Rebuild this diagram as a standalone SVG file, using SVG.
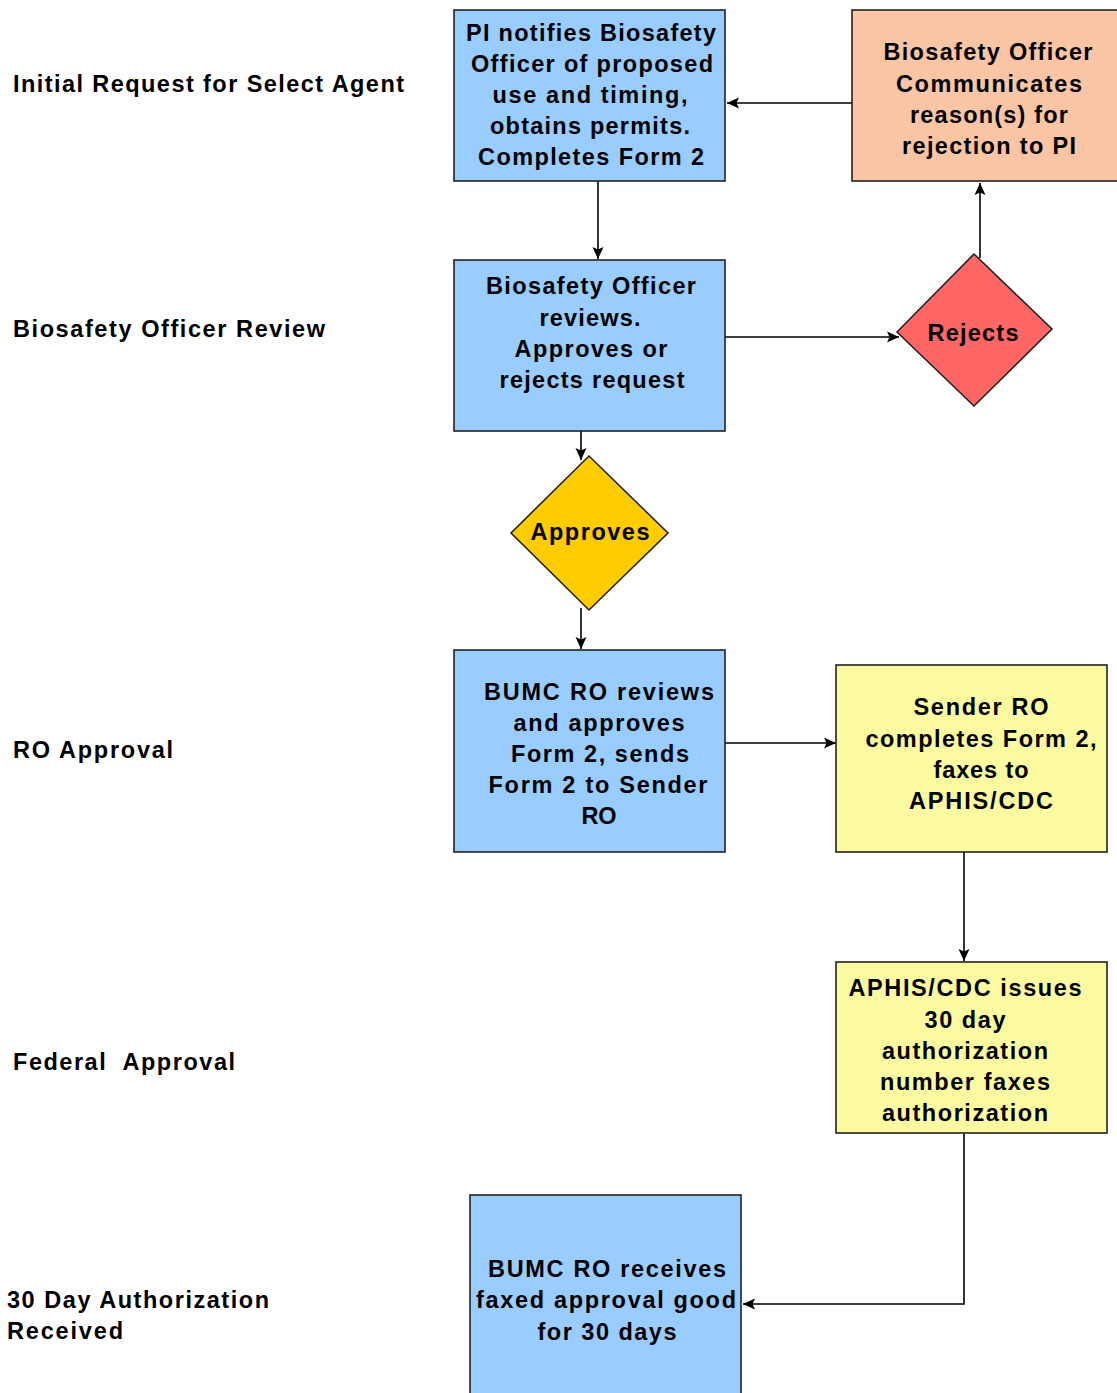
<svg xmlns="http://www.w3.org/2000/svg" width="1117" height="1393" viewBox="0 0 1117 1393">
<defs>
<marker id="arr" markerWidth="12" markerHeight="12" refX="12" refY="6" orient="auto" markerUnits="userSpaceOnUse">
<path d="M0,0.5 L12,6 L0,11.5 L2.5,6 Z" fill="#000"/>
</marker>
<style>
.t{font-family:"Liberation Sans",Arial,sans-serif;font-weight:bold;font-size:23.5px;fill:#000}
.c{text-anchor:middle}
.box{stroke:#222;stroke-width:1.6}
.blue{fill:#99CCFF}
.yel{fill:#FBFAA1}
.org{fill:#F9C5A5}
.ln{fill:none;stroke:#000;stroke-width:1.6}
</style>
</defs>
<rect width="1117" height="1393" fill="#fff"/>
<g id="labels">
<text class="t" x="13" y="92" textLength="391">Initial Request for Select Agent</text>
<text class="t" x="13" y="337" textLength="312">Biosafety Officer Review</text>
<text class="t" x="13" y="758" textLength="160">RO Approval</text>
<text class="t" x="13" y="1070" textLength="222" xml:space="preserve">Federal  Approval</text>
<text class="t" x="7" y="1308" textLength="262">30 Day Authorization</text>
<text class="t" x="7" y="1339" textLength="116">Received</text>
</g>
<g id="connectors">
<line class="ln" x1="852" y1="103" x2="727" y2="103" marker-end="url(#arr)"/>
<line class="ln" x1="598" y1="181" x2="598" y2="259" marker-end="url(#arr)"/>
<line class="ln" x1="725" y1="337" x2="899" y2="337" marker-end="url(#arr)"/>
<line class="ln" x1="980" y1="258" x2="980" y2="183" marker-end="url(#arr)"/>
<line class="ln" x1="581" y1="417" x2="581" y2="460" marker-end="url(#arr)"/>
<line class="ln" x1="581" y1="608" x2="581" y2="649" marker-end="url(#arr)"/>
<line class="ln" x1="725" y1="743" x2="836" y2="743" marker-end="url(#arr)"/>
<line class="ln" x1="964" y1="852" x2="964" y2="961" marker-end="url(#arr)"/>
<polyline class="ln" points="964,1133 964,1304 743,1304" marker-end="url(#arr)"/>
</g>
<g id="n1">
<rect class="box blue" x="454" y="10" width="271" height="171"/>
<text class="t c" x="591" y="41" textLength="250">PI notifies Biosafety</text>
<text class="t c" x="592" y="72" textLength="242">Officer of proposed</text>
<text class="t c" x="590" y="103" textLength="195">use and timing,</text>
<text class="t c" x="590" y="134" textLength="200">obtains permits.</text>
<text class="t c" x="591" y="165" textLength="226">Completes Form 2</text>
</g>
<g id="n2">
<rect class="box org" x="852" y="10" width="268" height="171"/>
<text class="t c" x="988" y="60" textLength="209">Biosafety Officer</text>
<text class="t c" x="989" y="92" textLength="186">Communicates</text>
<text class="t c" x="989" y="123" textLength="158">reason(s) for</text>
<text class="t c" x="989" y="154" textLength="174">rejection to PI</text>
</g>
<g id="n3">
<rect class="box blue" x="454" y="260" width="271" height="171"/>
<text class="t c" x="591" y="294" textLength="210">Biosafety Officer</text>
<text class="t c" x="590" y="326" textLength="101">reviews.</text>
<text class="t c" x="591" y="357" textLength="153">Approves or</text>
<text class="t c" x="592" y="388" textLength="185">rejects request</text>
</g>
<g id="n4">
<polygon class="box" fill="#FF6666" points="897,332 974,254 1052,329 974,406"/>
<text class="t c" x="973" y="341" textLength="91">Rejects</text>
</g>
<g id="n5">
<polygon class="box" fill="#FFCC00" points="511,533 589,456 668,533 589,610"/>
<text class="t c" x="590" y="540" textLength="119">Approves</text>
</g>
<g id="n6">
<rect class="box blue" x="454" y="650" width="271" height="202"/>
<text class="t c" x="599" y="700" textLength="230">BUMC RO reviews</text>
<text class="t c" x="599" y="731" textLength="171">and approves</text>
<text class="t c" x="600" y="762" textLength="178">Form 2, sends</text>
<text class="t c" x="598" y="793" textLength="219">Form 2 to Sender</text>
<text class="t c" x="599" y="824">RO</text>
</g>
<g id="n7">
<rect class="box yel" x="836" y="665" width="271" height="187"/>
<text class="t c" x="981" y="715" textLength="135">Sender RO</text>
<text class="t c" x="981" y="747" textLength="231">completes Form 2,</text>
<text class="t c" x="981" y="778" textLength="95">faxes to</text>
<text class="t c" x="981" y="809" textLength="144">APHIS/CDC</text>
</g>
<g id="n8">
<rect class="box yel" x="836" y="962" width="271" height="171"/>
<text class="t c" x="965" y="996" textLength="233">APHIS/CDC issues</text>
<text class="t c" x="965" y="1028" textLength="81">30 day</text>
<text class="t c" x="965" y="1059" textLength="166">authorization</text>
<text class="t c" x="965" y="1090" textLength="170">number faxes</text>
<text class="t c" x="965" y="1121" textLength="166">authorization</text>
</g>
<g id="n9">
<rect class="box blue" x="470" y="1195" width="271" height="210"/>
<text class="t c" x="607" y="1277" textLength="238">BUMC RO receives</text>
<text class="t c" x="606" y="1308" textLength="260">faxed approval good</text>
<text class="t c" x="607" y="1340" textLength="139">for 30 days</text>
</g>
</svg>
